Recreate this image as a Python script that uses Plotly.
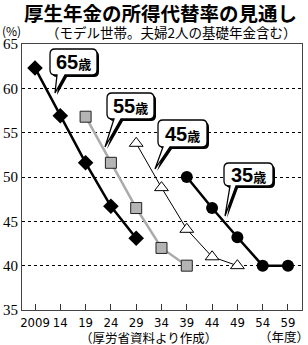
import plotly.graph_objects as go

# ---- data ----
years_65 = [2009, 2014, 2019, 2024, 2029]
rate_65 = [62.3, 56.9, 51.6, 46.7, 43.1]
years_55 = [2019, 2024, 2029, 2034, 2039]
rate_55 = [56.8, 51.6, 46.5, 42.0, 40.0]
years_45 = [2029, 2034, 2039, 2044, 2049]
rate_45 = [53.8, 48.8, 44.1, 41.0, 40.0]
years_35 = [2039, 2044, 2049, 2054, 2059]
rate_35 = [50.0, 46.5, 43.2, 40.0, 40.0]

x_tickvals = [2009, 2014, 2019, 2024, 2029, 2034, 2039, 2044, 2049, 2054, 2059]
x_ticktext = ["2009", "14", "19", "24", "29", "34", "39", "44", "49", "54", "59"]
y_tickvals = [35, 40, 45, 50, 55, 60, 65]

series_labels = ["65", "55", "45", "35"]

# ---- layout geometry (pixels) ----
W, H = 308, 345
L, R, T, B = 22, 302, 44, 310
XR = [2006.43, 2061.77]
YR = [35, 65]


def px2x(px):
    return XR[0] + (px - L) / (R - L) * (XR[1] - XR[0])


def py2y(py):
    return YR[1] - (py - T) / (B - T) * (YR[1] - YR[0])


def callout_path(box, wedge, dx=0.0, dy=0.0, r=5):
    x0, y0, x1, y1 = box
    wa, wb, tx, ty = wedge
    x0 += dx; x1 += dx; y0 += dy; y1 += dy
    wa += dx; wb += dx; tx += dx; ty += dy
    pts = [
        ("M", [(x0 + r, y0)]),
        ("L", [(x1 - r, y0)]),
        ("Q", [(x1, y0), (x1, y0 + r)]),
        ("L", [(x1, y1 - r)]),
        ("Q", [(x1, y1), (x1 - r, y1)]),
        ("L", [(wb, y1)]),
        ("L", [(tx, ty)]),
        ("L", [(wa, y1)]),
        ("L", [(x0 + r, y1)]),
        ("Q", [(x0, y1), (x0, y1 - r)]),
        ("L", [(x0, y0 + r)]),
        ("Q", [(x0, y0), (x0 + r, y0)]),
    ]
    s = ""
    for cmd, ps in pts:
        s += cmd + " ".join(f"{px2x(a):.4f},{py2y(b):.4f}" for a, b in ps) + " "
    return s + "Z"


# callout geometry: box (left, top, right, bottom) and wedge (base a, base b, tip x, tip y) in px
callouts = {
    "65": ((50, 49, 97, 75), (57, 65, 55, 93)),
    "55": ((107, 93, 154, 119), (114, 121, 105, 147)),
    "45": ((158, 120, 207, 147), (163, 170, 155, 169)),
    "35": ((224, 163, 273, 186), (230, 236, 225, 216)),
}

fig = go.Figure()

fig.add_trace(go.Scatter(x=years_55, y=rate_55, mode="lines+markers",
                         line=dict(color="#ababab", width=2.5),
                         marker=dict(symbol="square", size=11, color="#b4b4b4",
                                     line=dict(color="#222", width=1))))
fig.add_trace(go.Scatter(x=years_45, y=rate_45, mode="lines+markers",
                         line=dict(color="#000", width=1),
                         marker=dict(symbol="triangle-up", size=12, color="#fff",
                                     line=dict(color="#000", width=1))))
fig.add_trace(go.Scatter(x=years_65, y=rate_65, mode="lines+markers",
                         line=dict(color="#000", width=2.5),
                         marker=dict(symbol="diamond", size=12, color="#000")))
fig.add_trace(go.Scatter(x=years_35, y=rate_35, mode="lines+markers",
                         line=dict(color="#000", width=2.5),
                         marker=dict(symbol="circle", size=12, color="#000")))

shapes = []
annotations = []
for lab in series_labels:
    box, wedge = callouts[lab]
    shapes.append(dict(type="path", xref="x", yref="y",
                       path=callout_path(box, wedge, 2, 2),
                       fillcolor="#000", line=dict(width=0)))
    shapes.append(dict(type="path", xref="x", yref="y",
                       path=callout_path(box, wedge),
                       fillcolor="#fff", line=dict(color="#000", width=1.3)))
    cx = px2x((box[0] + box[2]) / 2)
    cy = py2y((box[1] + box[3]) / 2)
    annotations.append(dict(
        x=cx, y=cy, xref="x", yref="y", showarrow=False,
        text=f"<b>{lab}<span style='font-size:13px'>歳</span></b>",
        font=dict(family="Liberation Sans, Noto Sans CJK JP", size=20, color="#000"),
        xanchor="center", yanchor="middle"))


def paper_x(px):
    return (px - L) / (R - L)


def paper_y(py):
    return (B - py) / (B - T)


annotations += [
    dict(x=paper_x(160), y=paper_y(13), xref="paper", yref="paper", showarrow=False,
         text="<b>厚生年金の所得代替率の見通し</b>",
         font=dict(family="Noto Sans CJK JP", size=19.5, color="#000"),
         xanchor="center", yanchor="middle"),
    dict(x=paper_x(0), y=paper_y(31), xref="paper", yref="paper", showarrow=False,
         text="(%)", font=dict(family="Noto Sans CJK JP", size=12, color="#000"),
         xanchor="left", yanchor="middle"),
    dict(x=paper_x(171), y=paper_y(32), xref="paper", yref="paper", showarrow=False,
         text="（モデル世帯。夫婦2人の基礎年金含む）",
         font=dict(family="Noto Sans CJK JP", size=13.5, color="#000"),
         xanchor="center", yanchor="middle"),
    dict(x=paper_x(148), y=paper_y(337), xref="paper", yref="paper", showarrow=False,
         text="（厚労省資料より作成）",
         font=dict(family="Noto Sans CJK JP", size=12.5, color="#000"),
         xanchor="center", yanchor="middle"),
    dict(x=paper_x(284), y=paper_y(336), xref="paper", yref="paper", showarrow=False,
         text="（年度）",
         font=dict(family="Noto Sans CJK JP", size=12.5, color="#000"),
         xanchor="center", yanchor="middle"),
]

fig.update_layout(
    width=W, height=H,
    margin=dict(l=L, r=W - R, t=T, b=H - B),
    paper_bgcolor="#fff", plot_bgcolor="#fff",
    showlegend=False,
    shapes=shapes, annotations=annotations,
    xaxis=dict(range=XR, tickvals=x_tickvals, ticktext=x_ticktext,
               ticks="inside", ticklen=6, tickcolor="#333", tickwidth=1,
               tickangle=0, automargin=False,
               showgrid=False, zeroline=False,
               showline=True, linecolor="#444", linewidth=1.2, mirror=True,
               tickfont=dict(family="DejaVu Sans Condensed, Liberation Sans", size=13, color="#000")),
    yaxis=dict(range=YR, tickvals=y_tickvals, automargin=False,
               showgrid=True, gridcolor="#000", griddash="dot", gridwidth=1,
               zeroline=False, ticks="",
               showline=True, linecolor="#444", linewidth=1.2, mirror=True,
               tickfont=dict(family="Liberation Serif", size=15, color="#000")),
)

fig.write_html("out.html")
